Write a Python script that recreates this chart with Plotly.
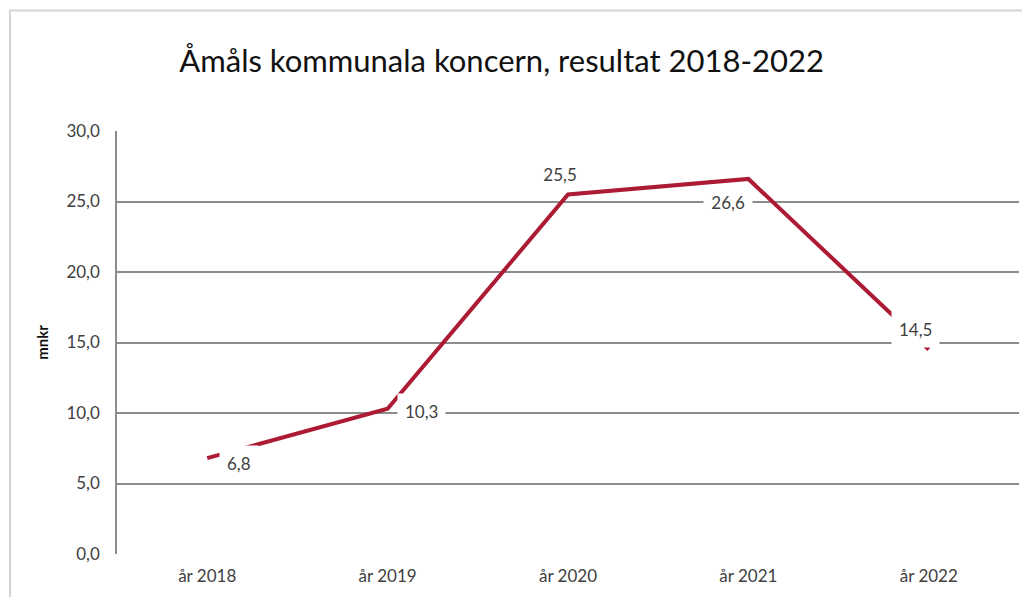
import plotly.graph_objects as go

years = ["år 2018", "år 2019", "år 2020", "år 2021", "år 2022"]
result_mnkr = [6.8, 10.3, 25.5, 26.6, 14.5]
y_ticks = [0, 5, 10, 15, 20, 25, 30]

# label placement (pixels) relative to each point, like the excel chart,
# plus the padding of the white box behind each label
offsets = [(32, -5), (34, -3), (-8, 20), (-20, -24), (-13, 20)]
pads = [7, 7, 3, 3, 7]

red = "#AC1A33"
grid = "#8c8c8c"
font = "Lato, 'Open Sans', sans-serif"

fig = go.Figure()
fig.add_trace(go.Scatter(
    x=years, y=result_mnkr, mode="lines",
    line=dict(color=red, width=4),
    hoverinfo="x+y",
))

for yr, val, (dx, dy), pad in zip(years, result_mnkr, offsets, pads):
    txt = f"{val:.1f}".replace(".", ",")
    if pad < 5:
        txt = "&nbsp;" + txt + "&nbsp;"
    fig.add_annotation(
        x=yr, y=val, xref="x", yref="y",
        text=txt,
        showarrow=False, xshift=dx, yshift=dy,
        bgcolor="white", borderpad=pad,
        font=dict(family=font, size=17, color="#404040"),
    )

# light frame round the chart area
fig.add_shape(type="rect", xref="paper", yref="paper",
              x0=-0.1186, x1=1.03, y0=-0.13, y1=1.285,
              line=dict(color="#d4d4d4", width=2), layer="below")

# page body has an 8px margin, so the figure is a bit smaller than the window
fig.update_layout(
    width=1022, height=589,
    margin=dict(l=109, r=11, t=123, b=37),
    paper_bgcolor="white", plot_bgcolor="white",
    separators=", ",
    showlegend=False,
    title=dict(text="Åmåls kommunala koncern, resultat 2018-2022",
               x=0.483, xanchor="center", y=0.909, yanchor="middle",
               font=dict(family=font, size=31, color="#111111")),
    font=dict(family=font, size=17, color="#404040"),
)
fig.update_xaxes(
    range=[-0.5, 4.5], showgrid=False, showline=False, zeroline=False,
    ticks="", ticklabelstandoff=10, tickfont=dict(size=17, color="#404040"),
)
fig.update_yaxes(
    range=[0, 30], tickvals=y_ticks, tickformat=".1f",
    showgrid=True, gridcolor=grid, gridwidth=1.5,
    showline=True, linecolor=grid, linewidth=1.5,
    zeroline=False, ticks="", ticklabelstandoff=12,
    tickfont=dict(size=17, color="#404040"),
    title=dict(text="mnkr", standoff=14,
               font=dict(family=font, size=15, color="#111111", weight="bold")),
)

fig.write_html("out.html")
